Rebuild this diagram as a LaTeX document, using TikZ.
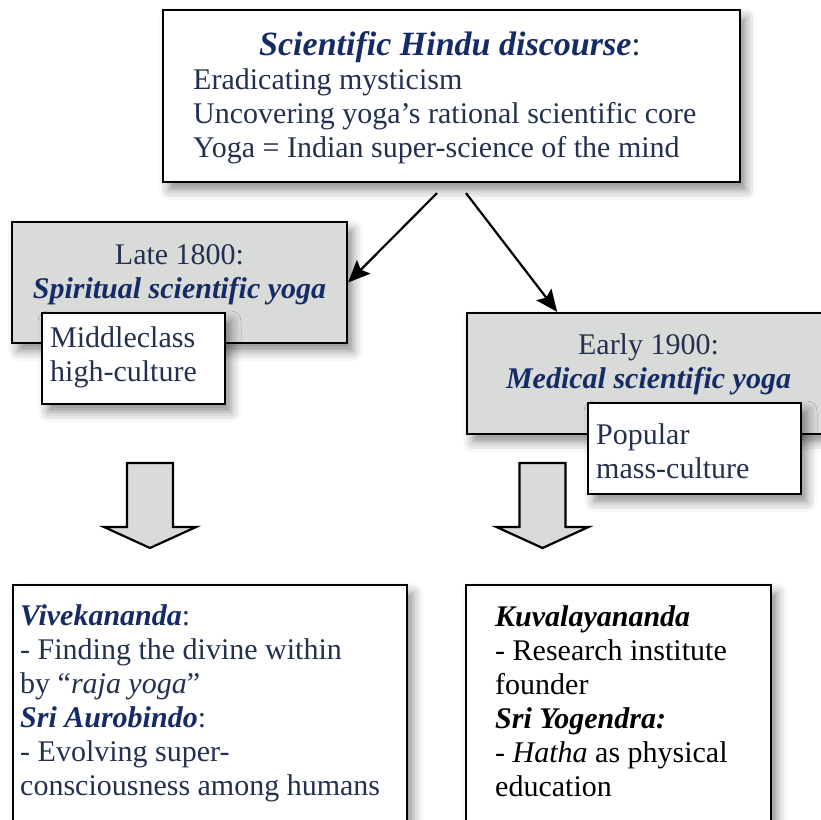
\documentclass[tikz,border=0pt]{standalone}
\usepackage{fontspec}
\setmainfont{Liberation Serif}
\usetikzlibrary{arrows.meta,calc,shadows.blur}
\definecolor{TextClr}{rgb}{0.14,0.19,0.31}
\definecolor{HeadClr}{rgb}{0.08,0.17,0.40}
\definecolor{BoxClr}{rgb}{0.85,0.86,0.85}
\newcommand{\Hd}[1]{\textcolor{HeadClr}{\textbf{\textit{#1}}}}

\begin{document}
\begin{tikzpicture}[x=1pt,y=-1pt,
  frame/.style={draw=black,line width=2.2pt,rectangle,inner sep=0pt,
    blur shadow={shadow xshift=6pt,shadow yshift=-8pt,shadow blur radius=10pt,shadow opacity=45}},
  era/.style={frame,fill=BoxClr},
  note/.style={frame,fill=white},
  txt/.style={inner sep=0pt,text=TextClr,font=\fontsize{30}{34}\selectfont},
  flow/.style={line width=2.2pt,-{Stealth[length=22pt,width=19pt,inset=4pt]}},
  blockarr/.style={draw=black,line width=2.2pt,fill=BoxClr,line join=miter}]
\useasboundingbox (0,0) rectangle (820,820);

% discourse (multi-line texts sit on their last baseline)
\node[note,minimum width=577pt,minimum height=172pt] (Disc) at (451.5,96) {};
\node[txt,anchor=base,font=\fontsize{34}{38}\selectfont] (DiscHd) at (450,55) {\Hd{Scientific Hindu discourse}:};
\node[txt,anchor=base west,align=left] (DiscTx) at (193,157)
  {Eradicating mysticism\\Uncovering yoga's rational scientific core\\Yoga = Indian super-science of the mind};

% the two periods
\node[era,minimum width=335pt,minimum height=121pt] (Late) at (179.5,282.5) {};
\node[txt,anchor=base,align=center] (LateTx) at (179.5,298) {Late 1800:\\\Hd{Spiritual scientific yoga}};
\node[note,minimum width=183pt,minimum height=91pt] (Middle) at (133.5,358.5) {};
\node[txt,anchor=base west,align=left] (MiddleTx) at (50,381) {Middleclass\\high-culture};

\node[era,minimum width=363pt,minimum height=121pt] (Early) at (648.5,373.5) {};
\node[txt,anchor=base,align=center] (EarlyTx) at (648.5,388) {Early 1900:\\\Hd{Medical scientific yoga}};
\node[note,minimum width=213pt,minimum height=91pt] (Popular) at (694.5,448.5) {};
\node[txt,anchor=base west,align=left] (PopularTx) at (596,478) {Popular\\mass-culture};

\draw[flow] ($(Disc.south)+(-14.5,10)$) -- (Late.east);
\draw[flow] ($(Disc.south)+(14.5,10)$) -- ($(Early.north west)!0.25!(Early.north east)$);

% block arrows
\foreach \ax in {150,542.5}
  \draw[blockarr] ({\ax-23},463) -- ({\ax+23},463) -- ({\ax+23},527) -- ({\ax+46},527)
    -- (\ax,548) -- ({\ax-46},527) -- ({\ax-23},527) -- cycle;

% people
\node[note,minimum width=394pt,minimum height=260pt,anchor=north west] (Vivek) at (12,584) {};
\node[txt,anchor=base west,align=left] (VivekTx) at (20,795)
  {\Hd{Vivekananda}:\\- Finding the divine within\\by ``\textit{raja yoga}''\\\Hd{Sri Aurobindo}:\\- Evolving super-\\consciousness among humans};
\node[note,minimum width=305pt,minimum height=260pt,anchor=north west] (Kuval) at (465,584) {};
\node[txt,text=black,anchor=base west,align=left] (KuvalTx) at (495,796)
  {\textbf{\textit{Kuvalayananda}}\\- Research institute\\founder\\\textbf{\textit{Sri Yogendra:}}\\- \textit{Hatha} as physical\\education};

\end{tikzpicture}
\end{document}
